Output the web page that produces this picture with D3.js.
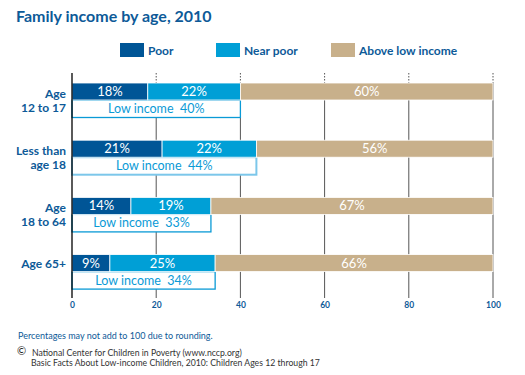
<!DOCTYPE html>
<html><head><meta charset="utf-8">
<script src="https://cdn.jsdelivr.net/npm/d3@7/dist/d3.min.js"></script>
<style>
body{margin:0;background:#fff;}
svg{display:block;font-family:Lato,"Open Sans",sans-serif;}
</style></head>
<body>
<svg id="chart" width="525" height="375"></svg>
<script>
const categories = [["Age","12 to 17"],["Less than","age 18"],["Age","18 to 64"],["Age 65+"]];
const poor = [18, 21.4, 14, 9];
const nearPoor = [22, 22.4, 19, 25];
const aboveLow = [60, 56.2, 67, 66];
const lowIncome = [40, 43.8, 33, 34];
const xTicks = [0, 20, 40, 60, 80, 100];
const seriesNames = ["Poor", "Near poor", "Above low income"];
const colors = ["#005596", "#009fd6", "#c8b08b"];
const dark = "#0d5a98";

const svg = d3.select("#chart");
const x = d3.scaleLinear().domain([0, 100]).range([72, 493]);
const keys = categories.map((c, i) => i);
const y = d3.scaleBand().domain(keys).range([83, 83 + 4 * 57.2]);
const barH = 17, boxH = 17.5;
const gridTop = 73, gridBottom = 298;

// title
svg.append("text").attr("x", 16).attr("y", 22).attr("fill", dark)
  .attr("font-size", 16).attr("font-weight", "bold").text("Family income by age, 2010");

// legend
const legX = [120, 216, 331];
seriesNames.forEach((n, i) => {
  svg.append("rect").attr("x", legX[i]).attr("y", 43).attr("width", 24).attr("height", 14).attr("fill", colors[i]);
  svg.append("text").attr("x", legX[i] + 28).attr("y", 54.5).attr("fill", dark)
    .attr("font-size", 12).attr("font-weight", "bold").text(n);
});

// gridlines
const grid = svg.append("g");
xTicks.filter(t => t > 0).forEach(t => {
  grid.append("line").attr("x1", x(t)).attr("x2", x(t)).attr("y1", gridTop).attr("y2", y(0))
    .attr("stroke", "#555").attr("stroke-width", 1).attr("stroke-dasharray", "1.5,1.5");
  grid.append("line").attr("x1", x(t)).attr("x2", x(t)).attr("y1", y(0)).attr("y2", gridBottom)
    .attr("stroke", "#555").attr("stroke-width", 1);
});

// bars
const stacked = keys.map(i => {
  const vals = [poor[i], nearPoor[i], aboveLow[i]];
  let acc = 0;
  return vals.map((v, j) => { const s = acc; acc += v; return {i, j, x0: s, x1: acc, v}; });
});

const rows = svg.append("g").selectAll("g").data(keys).join("g");

// low income boxes
rows.append("rect")
  .attr("x", 72).attr("y", i => y(i) + barH)
  .attr("width", i => x(lowIncome[i]) - x(0)).attr("height", boxH)
  .attr("fill", "#fff")
  .attr("stroke", i => i === 1 ? "#7cc7ea" : "#0a9ad6")
  .attr("stroke-width", i => i === 1 ? 2 : 1.3);
rows.append("text")
  .attr("x", i => (x(0) + x(lowIncome[i])) / 2).attr("y", i => y(i) + barH + 13)
  .attr("text-anchor", "middle").attr("fill", "#0a9ad6").attr("font-size", 12.5)
  .attr("xml:space", "preserve")
  .text(i => "Low income  " + Math.round(lowIncome[i]) + "%");

rows.selectAll("rect.seg").data(i => stacked[i]).join("rect").attr("class", "seg")
  .attr("x", d => x(d.x0)).attr("y", d => y(d.i))
  .attr("width", d => Math.min(x(d.x1), x(100)) - x(d.x0)).attr("height", barH)
  .attr("fill", d => colors[d.j]).attr("stroke", "#fff").attr("stroke-width", 0.8);
rows.selectAll("text.seg").data(i => stacked[i]).join("text").attr("class", "seg")
  .attr("x", d => (x(d.x0) + Math.min(x(d.x1), x(100))) / 2).attr("y", d => y(d.i) + 13)
  .attr("text-anchor", "middle").attr("fill", "#fff").attr("font-size", 13)
  .text(d => Math.round(d.v) + "%");

// category labels
rows.each(function(i) {
  const lines = categories[i];
  const g = d3.select(this);
  lines.forEach((l, k) => {
    g.append("text").attr("x", 66).attr("text-anchor", "end")
      .attr("y", lines.length === 1 ? y(i) + 13 : y(i) + 14.5 + k * 14.5)
      .attr("fill", dark).attr("font-size", 12).attr("font-weight", "bold").text(l);
  });
});

// zero axis line
svg.append("line").attr("x1", x(0)).attr("x2", x(0)).attr("y1", gridTop).attr("y2", gridBottom)
  .attr("stroke", "#000").attr("stroke-width", 1.3);

// x axis labels
const xAxis = d3.axisBottom(x).tickValues(xTicks).tickSize(0).tickPadding(0);
const ax = svg.append("g").attr("transform", `translate(0,${gridBottom + 4})`).call(xAxis);
ax.select(".domain").remove();
ax.selectAll("text").attr("fill", dark).attr("font-size", 8.5).attr("font-weight", "bold")
  .attr("font-family", "Lato, sans-serif");

// footnotes
svg.append("text").attr("x", 18).attr("y", 339).attr("fill", dark).attr("font-size", 9)
  .text("Percentages may not add to 100 due to rounding.");
svg.append("text").attr("x", 17).attr("y", 355).attr("fill", "#222").attr("font-size", 11).text("©");
svg.append("text").attr("x", 32).attr("y", 356).attr("fill", "#333").attr("font-size", 8.7)
  .text("National Center for Children in Poverty (www.nccp.org)");
svg.append("text").attr("x", 31).attr("y", 366).attr("fill", "#333").attr("font-size", 8.7)
  .text("Basic Facts About Low-income Children, 2010: Children Ages 12 through 17");
</script>
</body></html>
